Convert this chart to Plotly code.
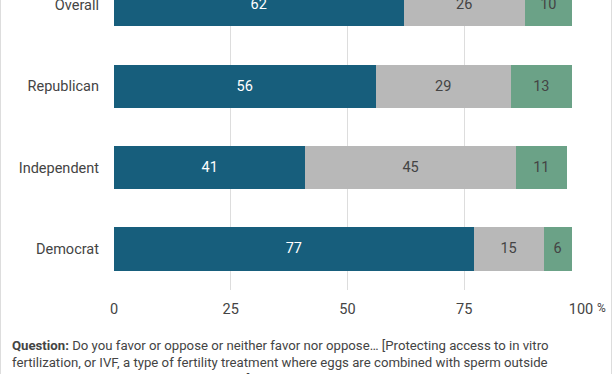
import plotly.graph_objects as go

categories = ["Democrat", "Independent", "Republican", "Overall"]
favor = [77, 41, 56, 62]
neither = [15, 45, 29, 26]
oppose = [6, 11, 13, 10]
tick_vals = [0, 25, 50, 75, 100]
tick_text = ["0", "25", "50", "75", "100"]

colors = ["#175E7C", "#B8B8B8", "#6BA287"]
text_colors = ["#FFFFFF", "#444444", "#444444"]
series = [("Favor", favor), ("Neither", neither), ("Oppose", oppose)]

fig = go.Figure()
for (name, vals), c, tc in zip(series, colors, text_colors):
    fig.add_trace(go.Bar(
        y=categories, x=vals, orientation="h", name=name,
        marker=dict(color=c, line=dict(width=0)),
        text=[str(v) for v in vals], textposition="inside",
        insidetextanchor="middle",
        textfont=dict(family="Roboto", size=14.5, color=tc),
        width=0.53, hoverinfo="skip",
    ))

L, R, T, B = 114, 31, 0, 84
W, H = 612, 374
pw = W - L - R
ph = H - T - B

caption = ("<b>Question:</b> Do you favor or oppose or neither favor nor oppose… [Protecting access to in vitro<br>"
           "fertilization, or IVF, a type of fertility treatment where eggs are combined with sperm outside<br>"
           "the body and then implanted in a uterus.]")

fig.update_layout(
    width=W, height=H, barmode="stack", showlegend=False,
    margin=dict(l=L, r=R, t=T, b=B, pad=0, autoexpand=False),
    paper_bgcolor="white", plot_bgcolor="white",
    font=dict(family="Roboto", size=14, color="#444444"),
    xaxis=dict(range=[0, 100], tickvals=tick_vals, ticktext=tick_text,
               showgrid=True, gridcolor="#DDDDDD", gridwidth=1, zeroline=False,
               showline=False, ticks="", ticklabelstandoff=8, automargin=False,
               tickfont=dict(family="Roboto", size=14.5, color="#444444")),
    yaxis=dict(range=[-0.504, 3.06], showgrid=False, zeroline=False,
               showline=False, ticks="", ticklabelstandoff=14, automargin=False,
               tickfont=dict(family="Roboto", size=14.5, color="#444444")),
    annotations=[
        dict(text="%", xref="paper", yref="paper", x=1, y=-0.062,
             xanchor="left", yanchor="middle", xshift=14, showarrow=False,
             font=dict(family="Roboto", size=12, color="#444444")),
        dict(text=caption, xref="paper", yref="paper",
             x=(10 - L) / pw, y=(ph - 336) / ph, xanchor="left", yanchor="top",
             align="left", showarrow=False,
             font=dict(family="Roboto", size=13.2, color="#444444")),
    ],
    shapes=[
        dict(type="line", xref="paper", yref="paper",
             x0=(0.5 - L) / pw, x1=(0.5 - L) / pw, y0=(ph - H) / ph, y1=1,
             line=dict(color="#DDDDDD", width=1)),
        dict(type="line", xref="paper", yref="paper",
             x0=(611.5 - L) / pw, x1=(611.5 - L) / pw, y0=(ph - H) / ph, y1=1,
             line=dict(color="#DDDDDD", width=1)),
    ],
)

fig.write_html("out.html", config={"displayModeBar": False},
               post_script="document.body.style.margin='0';document.body.style.overflow='hidden';")
